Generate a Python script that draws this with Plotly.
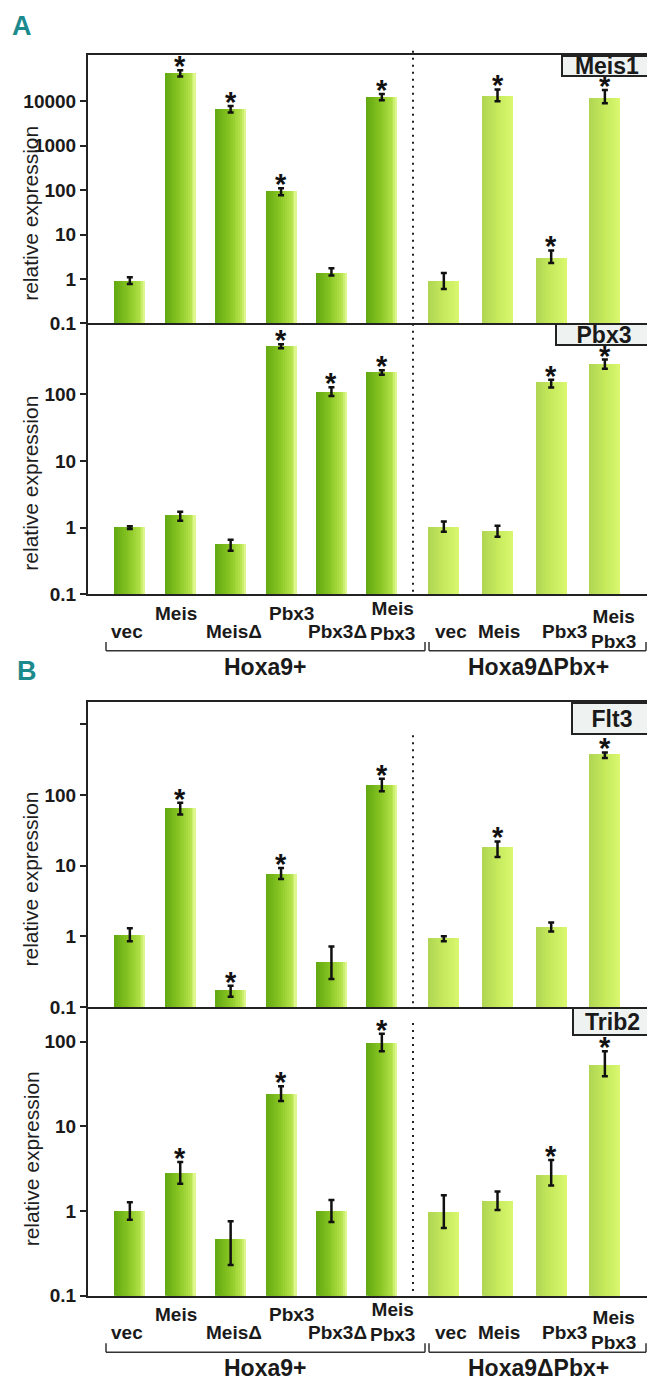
import plotly.graph_objects as go
import math

# ---------------- data ----------------
categories = ["vec", "Meis", "MeisΔ", "Pbx3", "Pbx3Δ", "Meis<br>Pbx3",
              "vec", "Meis", "Pbx3", "Meis<br>Pbx3"]
groups = ["Hoxa9+"] * 6 + ["Hoxa9ΔPbx+"] * 4

meis1 = [0.9, 44000, 6900, 97, 1.4, 12900, 0.9, 13500, 3.1, 12000]
meis1_hi = [1.1, 50000, 7800, 110, 1.75, 14500, 1.36, 18500, 4.4, 18000]
meis1_lo = [0.77, 36000, 5600, 77, 1.2, 10500, 0.6, 10000, 2.3, 9000]
meis1_sig = [0, 1, 1, 1, 0, 1, 0, 1, 1, 1]

pbx3 = [1.0, 1.5, 0.56, 520, 107, 213, 1.0, 0.87, 150, 280]
pbx3_hi = [1.05, 1.73, 0.66, 560, 127, 228, 1.23, 1.07, 165, 330]
pbx3_lo = [0.95, 1.27, 0.45, 490, 94, 195, 0.87, 0.73, 126, 240]
pbx3_sig = [0, 0, 0, 1, 1, 1, 0, 0, 1, 1]

flt3 = [1.03, 65, 0.17, 7.6, 0.43, 135, 0.94, 18, 1.33, 370]
flt3_hi = [1.3, 78, 0.2, 9.3, 0.72, 170, 1.0, 22, 1.57, 400]
flt3_lo = [0.85, 53, 0.14, 6.5, 0.25, 113, 0.85, 13.3, 1.17, 335]
flt3_sig = [0, 1, 1, 1, 0, 1, 0, 1, 0, 1]

trib2 = [1.0, 2.8, 0.47, 24, 1.0, 96, 0.98, 1.3, 2.7, 53]
trib2_hi = [1.27, 3.8, 0.76, 29.7, 1.35, 124, 1.54, 1.7, 4.0, 77]
trib2_lo = [0.79, 2.1, 0.23, 20, 0.74, 77, 0.63, 1.03, 2.0, 39]
trib2_sig = [0, 1, 0, 1, 0, 1, 0, 0, 1, 1]

panel_titles = ["Meis1", "Pbx3", "Flt3", "Trib2"]
tick_vals_1 = [0.1, 1, 10, 100, 1000, 10000]
tick_text_1 = ["0.1", "1", "10", "100", "1000", "10000"]
tick_vals_2 = [0.1, 1, 10, 100]
tick_text_2 = ["0.1", "1", "10", "100"]
tick_vals_3 = [0.1, 1, 10, 100, 1000]
tick_text_3 = ["0.1", "1", "10", "100", ""]
section_labels = ["A", "B"]
y_title = "relative expression"

# ---------------- layout helpers ----------------
W, H = 655, 1388
FONT = "Liberation Sans, Arial, sans-serif"


def pxx(p):
    return p / W


def pxy(p):
    return 1 - p / H


# x positions: left group 0..5, right group after a small gap
xpos = [i if i < 6 else 6.23 + (i - 6) * 1.065 for i in range(10)]
BAR_W = 0.615
X_RANGE = [-0.83, 10.38]

panels = [
    dict(v=meis1, hi=meis1_hi, lo=meis1_lo, sig=meis1_sig, top=47, bot=318,
         yr=[-1, 5.05], tv=tick_vals_1, tt=tick_text_1),
    dict(v=pbx3, hi=pbx3_hi, lo=pbx3_lo, sig=pbx3_sig, top=318, bot=591,
         yr=[-1, 3.06], tv=tick_vals_2, tt=tick_text_2),
    dict(v=flt3, hi=flt3_hi, lo=flt3_lo, sig=flt3_sig, top=700, bot=1007,
         yr=[-1, 3.31], tv=tick_vals_3, tt=tick_text_3),
    dict(v=trib2, hi=trib2_hi, lo=trib2_lo, sig=trib2_sig, top=1007, bot=1298,
         yr=[-1, 2.41], tv=tick_vals_2, tt=tick_text_2),
]


def lerp_stops(stops, t):
    for (t0, c0), (t1, c1) in zip(stops[:-1], stops[1:]):
        if t <= t1:
            f = (t - t0) / (t1 - t0) if t1 > t0 else 0
            return "rgb(%d,%d,%d)" % tuple(round(a + (b - a) * f) for a, b in zip(c0, c1))
    return "rgb(%d,%d,%d)" % stops[-1][1]


stops_left = [(0.0, (100, 170, 18)), (0.45, (136, 197, 36)), (0.85, (178, 226, 72)), (1.0, (222, 247, 140))]
stops_right = [(0.0, (176, 214, 84)), (0.5, (198, 234, 92)), (1.0, (216, 246, 110))]

fig = go.Figure()
NS = 16
layout_axes = {}
annotations = []
shapes = []

for k, p in enumerate(panels):
    n = k + 1
    xa = "x" if n == 1 else "x%d" % n
    ya = "y" if n == 1 else "y%d" % n
    # gradient bars: layered slices
    for s in range(NS):
        t = s / (NS - 1)
        cols = [lerp_stops(stops_left if g == "Hoxa9+" else stops_right, t) for g in groups]
        off = -BAR_W / 2 + s * BAR_W / NS
        fig.add_trace(go.Bar(
            x=xpos, y=p["v"], width=BAR_W - s * BAR_W / NS, offset=off,
            marker=dict(color=cols, line=dict(width=0)),
            xaxis=xa, yaxis=ya, showlegend=False, hoverinfo="skip"))
    # error bars
    fig.add_trace(go.Scatter(
        x=xpos, y=p["v"], mode="markers", marker=dict(size=1, opacity=0),
        error_y=dict(type="data", symmetric=False,
                     array=[h - v for h, v in zip(p["hi"], p["v"])],
                     arrayminus=[v - l for v, l in zip(p["v"], p["lo"])],
                     color="#111111", thickness=2.5, width=3),
        xaxis=xa, yaxis=ya, showlegend=False, hoverinfo="skip"))
    # significance stars
    for i, sgn in enumerate(p["sig"]):
        if sgn:
            annotations.append(dict(
                x=xpos[i], y=math.log10(p["hi"][i]), xref=xa, yref=ya,
                text="<b>*</b>", showarrow=False, xanchor="center", yanchor="middle", yshift=4,
                font=dict(family=FONT, size=29, color="#111111")))
    dom_y = [pxy(p["bot"]), pxy(p["top"])]
    layout_axes["xaxis" if n == 1 else "xaxis%d" % n] = dict(
        domain=[pxx(80), pxx(645)], range=X_RANGE, anchor=ya,
        showticklabels=False, ticks="", showgrid=False, zeroline=False,
        showline=True, linecolor="#222222", linewidth=2,
        mirror=(k in (0, 2)), fixedrange=True)
    layout_axes["yaxis" if n == 1 else "yaxis%d" % n] = dict(
        domain=dom_y, type="log", range=p["yr"], anchor=xa,
        tickvals=p["tv"], ticktext=p["tt"], ticks="outside", ticklen=6, tickwidth=2,
        tickcolor="#222222",
        tickfont=dict(family=FONT, size=19, color="#1a1a1a", weight="bold"),
        showgrid=False, zeroline=False, showline=True, linecolor="#222222",
        linewidth=2, mirror=True)
    # y title
    annotations.append(dict(
        x=pxx(23), y=pxy((p["top"] + p["bot"]) / 2 + (25 if k < 3 else 8)),
        xref="paper", yref="paper", text=y_title, textangle=-90, showarrow=False,
        xanchor="center", yanchor="middle",
        font=dict(family=FONT, size=21, color="#1e1e1e")))
    # panel title box
    annotations.append(dict(
        x=1, y=1, xref=xa + " domain", yref=ya + " domain", xanchor="right", yanchor="top",
        text="<b>%s</b>" % panel_titles[k], showarrow=False,
        font=dict(family=FONT, size=23, color="#1a1a1a"),
        bgcolor="#eef2f1", bordercolor="#222222", borderwidth=2, borderpad=0,
        width=[88, 94, 78, 77][k], height=[18, 19, 29, 25][k]))

# category labels and brackets under panels 2 and 4
label_dy = [37, 19, 37, 19, 37, 27, 37, 37, 37, 35]
label_dx = [-3, -4, 3, 10, 6, 11, 7, 1, 13, 9]
for sec, bot_idx in enumerate([1, 3]):
    p = panels[bot_idx]
    b = p["bot"]
    xa = "x%d" % (bot_idx + 1)
    for i, c in enumerate(categories):
        annotations.append(dict(
            x=xpos[i], y=pxy(b + label_dy[i]), xref=xa, yref="paper", text="<b>%s</b>" % c,
            xshift=label_dx[i], showarrow=False, xanchor="center", yanchor="middle",
            font=dict(family=FONT, size=19, color="#1a1a1a")))
    ly = b + 57
    for x0, x1 in [(98, 417), (421, 638)]:
        shapes.append(dict(type="line", xref="paper", yref="paper", x0=pxx(x0), x1=pxx(x1),
                           y0=pxy(ly), y1=pxy(ly), line=dict(color="#333333", width=1.5)))
        for xx in (x0, x1):
            shapes.append(dict(type="line", xref="paper", yref="paper", x0=pxx(xx), x1=pxx(xx),
                               y0=pxy(ly - 9), y1=pxy(ly), line=dict(color="#333333", width=1.5)))
    for gname, cx in [(groups[0], 257), (groups[-1], 530)]:
        annotations.append(dict(
            x=pxx(cx), y=pxy(b + 73), xref="paper", yref="paper", text="<b>%s</b>" % gname,
            showarrow=False, xanchor="center", yanchor="middle",
            font=dict(family=FONT, size=23, color="#1a1a1a")))

# dotted separators
for y0, y1 in [(43, 590), (733, 1006), (1023, 1296)]:
    shapes.append(dict(type="line", xref="paper", yref="paper", x0=pxx(405), x1=pxx(405),
                       y0=pxy(y0), y1=pxy(y1), line=dict(color="#222222", width=2, dash="2px,5px")))

# section letters
for lab, (cx, cy) in zip(section_labels, [(14, 18), (19, 668)]):
    annotations.append(dict(
        x=pxx(cx), y=pxy(cy), xref="paper", yref="paper", text="<b>%s</b>" % lab,
        showarrow=False, xanchor="center", yanchor="middle",
        font=dict(family=FONT, size=27, color="#1c8a8c")))

fig.update_layout(
    width=W, height=H, margin=dict(l=0, r=0, t=0, b=0),
    paper_bgcolor="white", plot_bgcolor="white",
    barmode="overlay", bargap=0,
    annotations=annotations, shapes=shapes, showlegend=False,
    **layout_axes)

fig.write_html("out.html", config={"displayModeBar": False})
